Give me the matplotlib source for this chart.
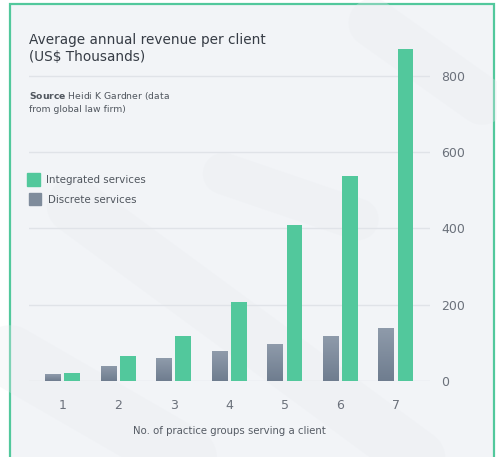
import matplotlib.pyplot as plt
import numpy as np
from matplotlib.patches import Rectangle
from matplotlib.lines import Line2D
from matplotlib.colors import LinearSegmentedColormap

# valeurs (milliers de US$)
groupes = [1, 2, 3, 4, 5, 6, 7]
integres = [20, 66, 119, 207, 408, 537, 870]
discrets = [18, 40, 59, 78, 98, 118, 140]
graduations_y = [0, 200, 400, 600, 800]

VERT = "#52c89c"
GRIS = "#7f8c9c"
FOND = "#f2f4f7"
TEXTE = "#6b717b"

fig = plt.figure(figsize=(4.97, 4.57), dpi=100)

# cadre vert et fond
fig.patches.append(Rectangle((10 / 497, -0.05), 484 / 497, 1.05 - 4 / 457,
                             transform=fig.transFigure, facecolor=FOND,
                             edgecolor=VERT, lw=1.6, zorder=0))

# bandes diagonales pâles en arrière-plan
for (x0, y0, x1, y1, w) in [(0.02, 0.22, 0.45, -0.05, 45), (0.15, 0.55, 0.9, -0.05, 40),
                            (0.75, 0.95, 0.97, 0.78, 35), (0.45, 0.62, 0.72, 0.52, 30)]:
    fig.lines.append(Line2D([x0, x1], [y0, y1], transform=fig.transFigure,
                            color="#e9ecf0", lw=w, alpha=0.3, solid_capstyle="round",
                            zorder=0.5))

ax = fig.add_axes([29 / 497, 76 / 457, 401 / 497, 336 / 457])
ax.set_zorder(2)
ax.patch.set_alpha(0)

x = np.array(groupes)
larg = 0.28
barres_d = ax.bar(x - 0.175, discrets, larg, color=GRIS, zorder=3, label="Discrete services")
ax.bar(x + 0.175, integres, larg, color=VERT, zorder=3, label="Integrated services")

ax.set_xlim(0.396, 7.62)
ax.set_ylim(0, 880)

# dégradé vertical sur les barres grises
degrade = LinearSegmentedColormap.from_list("g", ["#6f7d8f", "#8f9bab"])
for b in barres_d:
    bx, by = b.get_x(), b.get_y()
    im = ax.imshow(np.linspace(0, 1, 50).reshape(-1, 1), cmap=degrade, aspect="auto",
                   origin="lower", extent=(bx, bx + b.get_width(), by, by + b.get_height()),
                   zorder=3.5)
    im.set_clip_path(b)
ax.set_xlim(0.396, 7.62)
ax.set_ylim(0, 880)

ax.yaxis.tick_right()
ax.set_yticks(graduations_y)
ax.set_xticks(groupes)
ax.tick_params(axis="y", length=0, pad=8, labelsize=9, labelcolor=TEXTE)
ax.tick_params(axis="x", length=0, pad=13, labelsize=9, labelcolor=TEXTE)
ax.grid(axis="y", color="#e0e3e8", lw=1, zorder=1)
for s in ax.spines.values():
    s.set_visible(False)
ax.set_xlabel("No. of practice groups serving a client", fontsize=7.3,
              color="#555b64", labelpad=10)

# titre et source
fig.text(29 / 497, 1 - 40 / 457, "Average annual revenue per client", fontsize=9.8,
         color="#363c45", va="center", zorder=3)
fig.text(29 / 497, 1 - 57 / 457, "(US$ Thousands)", fontsize=9.8,
         color="#363c45", va="center", zorder=3)
fig.text(29 / 497, 1 - 96 / 457, r"$\bf{Source}$ Heidi K Gardner (data", fontsize=6.7,
         color="#50565e", va="center", zorder=3)
fig.text(29 / 497, 1 - 110 / 457, "from global law firm)", fontsize=6.7,
         color="#50565e", va="center", zorder=3)

# légende
fig.patches.append(Rectangle((27 / 497, 1 - 186 / 457), 13 / 497, 13 / 457,
                             transform=fig.transFigure, color=VERT, zorder=3))
fig.text(46 / 497, 1 - 180 / 457, "Integrated services", fontsize=7.4,
         color="#50565e", va="center", zorder=3)
fig.patches.append(Rectangle((29 / 497, 1 - 205 / 457), 12 / 497, 12 / 457,
                             transform=fig.transFigure, color=GRIS, zorder=3))
fig.text(48 / 497, 1 - 200 / 457, "Discrete services", fontsize=7.4,
         color="#50565e", va="center", zorder=3)

fig.savefig("out.png", dpi=100, facecolor="white")
